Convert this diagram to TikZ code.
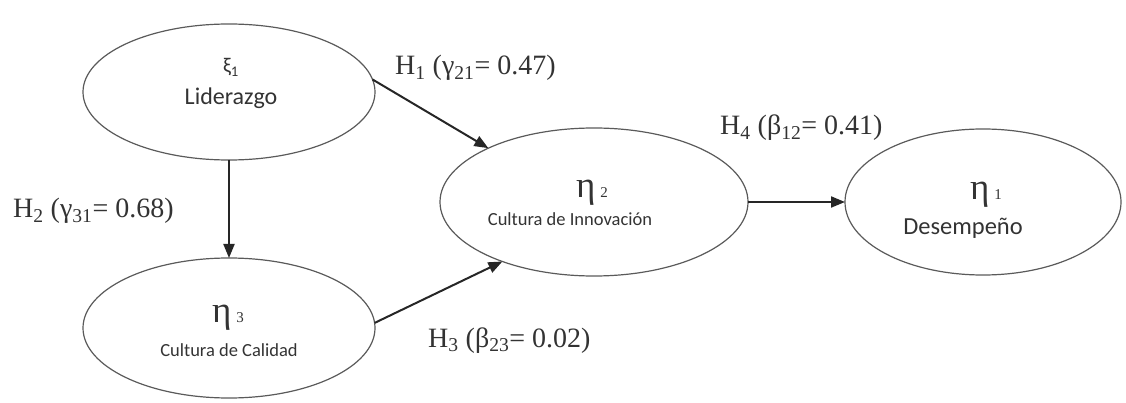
\documentclass[tikz,border=0pt]{standalone}
\usepackage{fontspec}
\setmainfont{Liberation Serif}
\newfontfamily\labelsans{Carlito}
\usetikzlibrary{arrows.meta,shapes.geometric}
\definecolor{ink}{HTML}{333333}
\definecolor{rim}{HTML}{5A5A5A}
\begin{document}
\begin{tikzpicture}[x=1pt,y=-1pt,
  latent/.style={ellipse,draw=rim,line width=1.2pt,inner sep=0pt,outer sep=0pt},
  link/.style={line width=2pt,draw=black!85,-{Triangle[length=14pt,width=11pt]}},
  hyp/.style={anchor=base west,inner sep=0pt,text=ink,font=\fontsize{28}{30}\selectfont},
  symtext/.style={anchor=base,inner sep=0pt,text=ink},
  nametext/.style={anchor=base,inner sep=0pt,text=ink}]
\useasboundingbox (0,0) rectangle (1126,403);

% latent constructs
\node[latent,minimum width=292pt,minimum height=136pt] (lid) at (229,92) {};
\node[latent,minimum width=292pt,minimum height=140pt] (cal) at (229,328) {};
\node[latent,minimum width=308pt,minimum height=148pt] (inn) at (594,202) {};
\node[latent,minimum width=276pt,minimum height=146pt] (des) at (983,202) {};

% construct symbols and names
\node[symtext,font=\labelsans\fontsize{21}{21}\selectfont] (lidsym) at (231,73) {ξ\textsubscript{1}};
\node[nametext,font=\labelsans\fontsize{24}{26}\selectfont] (lidname) at (231,105) {Liderazgo};
\node[symtext] (calsym) at (228,322) {\fontsize{37}{37}\selectfont η\hspace{5pt}\fontsize{15}{15}\selectfont 3};
\node[nametext,font=\labelsans\fontsize{18.5}{20}\selectfont] (calname) at (229,356) {Cultura de Calidad};
\node[symtext] (innsym) at (592,198) {\fontsize{37}{37}\selectfont η\hspace{5pt}\fontsize{15}{15}\selectfont 2};
\node[nametext,font=\labelsans\fontsize{18.5}{20}\selectfont] (innname) at (570,226) {Cultura de Innovación};
\node[symtext] (dessym) at (986,200) {\fontsize{37}{37}\selectfont η\hspace{5pt}\fontsize{15}{15}\selectfont 1};
\node[nametext,font=\labelsans\fontsize{24.5}{26}\selectfont] (desname) at (963,235) {Desempeño};

% structural paths
\draw[link] (lid.5) -- (inn.153);
\draw[link] (lid.south) -- (cal.north);
\draw[link] (cal.2) -- (inn.213.5);
\draw[link] (inn.east) -- (des.west);

% path coefficients
\node[hyp] (h1) at (395,75) {H\textsubscript{1} (γ\textsubscript{21}= 0.47)};
\node[hyp] (h2) at (13,218) {H\textsubscript{2} (γ\textsubscript{31}= 0.68)};
\node[hyp] (h3) at (428,347) {H\textsubscript{3} (β\textsubscript{23}= 0.02)};
\node[hyp] (h4) at (720,135) {H\textsubscript{4} (β\textsubscript{12}= 0.41)};
\end{tikzpicture}
\end{document}
